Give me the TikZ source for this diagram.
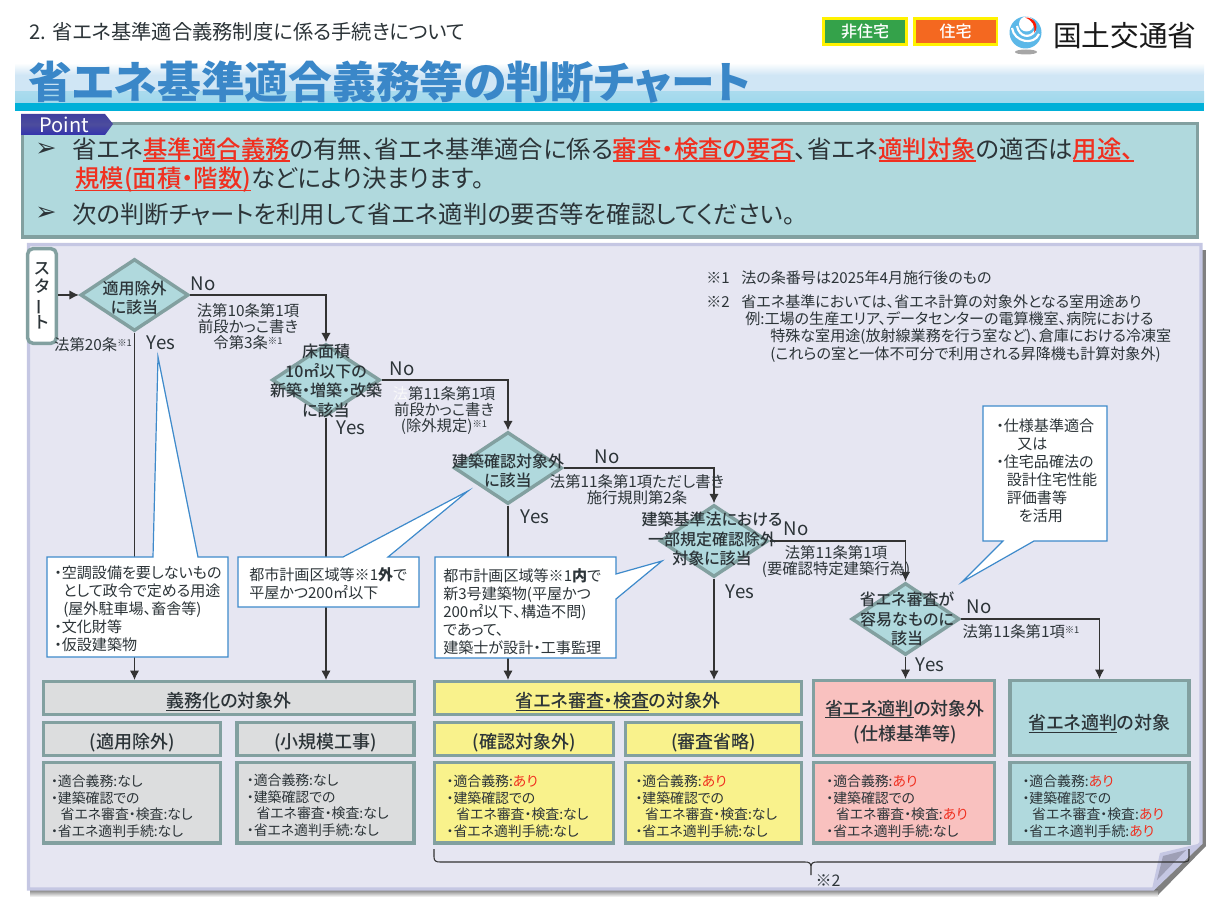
\documentclass[tikz,border=0pt]{standalone}
\usepackage{fontspec}
\setmainfont{Noto Sans CJK JP}[RawFeature=+palt]
\newfontfamily\medfont{Noto Sans CJK JP Medium}[RawFeature=+palt]
\newfontfamily\arrowfont{DejaVu Sans}
\usetikzlibrary{positioning,shapes.geometric,arrows.meta}
\definecolor{panelfill}{HTML}{E6E6F2}
\definecolor{panelline}{HTML}{C5C7E3}
\definecolor{boxline}{HTML}{82A0A0}
\definecolor{tealfill}{HTML}{B0D9DD}
\definecolor{grayfill}{HTML}{DCDDDE}
\definecolor{yelfill}{HTML}{F9F28C}
\definecolor{pinkfill}{HTML}{F9C1BF}
\definecolor{callline}{HTML}{3E8ACB}
\definecolor{titleblue}{HTML}{3A87C8}
\definecolor{redtx}{HTML}{F03020}
\definecolor{darktx}{HTML}{2C3438}
\definecolor{tagyellow}{HTML}{FFF200}
\definecolor{bandpale}{HTML}{D0E6F5}
\definecolor{bandsky}{HTML}{A0D8EC}
\definecolor{bandbar}{HTML}{00B0D8}
\definecolor{logoblue}{HTML}{5CB8E8}
\newcommand{\kome}{\raisebox{3.5pt}{\fontsize{7}{7}\selectfont ※1}}
\newcommand{\redul}[1]{\textcolor{redtx}{\setbox0\hbox{\medfont #1}\rlap{\rule[-2.6pt]{\wd0}{1.2pt}}\box0}}
\newcommand{\blkul}[1]{\setbox0\hbox{#1}\rlap{\rule[-2.2pt]{\wd0}{0.8pt}}\box0}
\newcommand{\ari}{\textcolor{redtx}{あり}}
% first line of the result boxes, sets the text a bit lower
\newcommand{\lowtop}{\rule{0pt}{14.5pt}}
\begin{document}
\begin{tikzpicture}[x=0.75pt,y=-0.75pt]
\tikzstyle{box}=[rectangle, draw=boxline, line width=2.6pt, inner sep=0pt, text=darktx, align=center, text height=15pt, text depth=0.5pt, font=\fontsize{13.5}{17}\medfont]
\tikzstyle{dec}=[diamond, draw=boxline, fill=tealfill, line width=2.6pt, inner sep=0pt, minimum width=81pt, minimum height=54pt]
\tikzstyle{dectext}=[inner sep=0pt, align=center, text=darktx, font=\fontsize{12}{14.8}\medfont]
\tikzstyle{connect}=[-{Latex[length=7pt,width=7pt]}, line width=0.9pt, draw=black!80]
\tikzstyle{callout}=[draw=callline, fill=white, line width=0.9pt, line join=miter]
\tikzstyle{calltext}=[inner sep=0pt, anchor=north west, align=left, text=darktx, font=\fontsize{11.3}{13.5}\selectfont]
\tikzstyle{info}=[rectangle, draw=boxline, line width=2.6pt, inner ysep=0pt, text=darktx, font=\fontsize{10.4}{12.4}\selectfont, align=left, minimum height=60.5pt]
\tikzstyle{law}=[inner sep=0pt, align=center, text=darktx, font=\fontsize{11.5}{12}\selectfont]
\tikzstyle{yesno}=[inner sep=0pt, text=darktx, font=\fontsize{14}{14}\selectfont]
\tikzstyle{note}=[inner sep=0pt, anchor=west, text=darktx, font=\fontsize{11.3}{12}\selectfont]
\tikzstyle{pointline}=[inner sep=0pt, anchor=west, text=darktx, font=\fontsize{18.3}{18.3}\selectfont]
\tikzstyle{tag}=[draw=tagyellow, line width=2pt, minimum width=62pt, minimum height=19.5pt, inner sep=0pt, text=white, font=\fontsize{12}{12}\medfont]
\useasboundingbox (0,0) rectangle (1221,912);
  % header
  \node[inner sep=0pt, anchor=west, text=darktx, font=\fontsize{15.2}{15.2}\selectfont] (subhead) at (29,32) {2. 省エネ基準適合義務制度に係る手続きについて};
  \node[tag, fill={rgb,255:red,52;green,162;blue,74}] (nonres) at (865,31.5) {非住宅};
  \node[tag, fill={rgb,255:red,244;green,104;blue,32}] (res) at (955.5,31.5) {住宅};
  % logo
  \fill[black!35] (1026,52) ellipse (11 and 2.5);
  \fill[logoblue] (1025.5,32.5) circle (16);
  \fill[white] (1026.5,24) circle (7.5);
  \draw[white, line width=1.6pt] (1012,28) .. controls (1014,42) and (1034,46) .. (1039,34);
  \draw[white, line width=1.6pt] (1017,26) .. controls (1019,37) and (1030,39) .. (1035,31);
  \fill[red!80!orange] (1025,17.5) .. controls (1034,17) and (1040,26) .. (1034,33) .. controls (1036,26) and (1032,20) .. (1025,17.5);
  \node[inner sep=0pt, anchor=west, text=black!90, font=\fontsize{21.5}{21.5}\selectfont] (mlit) at (1053,36) {国土交通省};
  % title band
  \shade[top color=white, bottom color=bandpale] (15,63) rectangle (1204,75);
  \fill[bandpale] (15,75) rectangle (1204,92);
  \shade[top color=bandsky!80!bandpale, bottom color=bandsky] (15,92) rectangle (1204,103);
  \fill[bandbar] (15,103) rectangle (1204,111);
  \node[inner sep=0pt, anchor=west, text=titleblue, font=\fontsize{32.8}{32.8}\selectfont\bfseries] (title) at (28,82) {省エネ基準適合義務等の判断チャート};
  % point box
  \node[box, fill=tealfill, minimum width=881pt, minimum height=85pt, anchor=north west] (pointbox) at (21,122) {};
  \shade[top color=blue!50!black!75, bottom color=blue!60!black!80, middle color=blue!45!black!70, draw=none] (21,114) -- (105,114) -- (113,124) -- (105,135) -- (21,135) -- cycle;
  \node[inner sep=0pt, text=white, font=\fontsize{15}{15}\selectfont] (pointtag) at (64,125) {Point};
  \node[inner sep=0pt, anchor=west, text=darktx, font=\arrowfont\fontsize{19}{19}\selectfont] (arrowa) at (35,150) {➢};
  \node[inner sep=0pt, anchor=west, text=darktx, font=\arrowfont\fontsize{19}{19}\selectfont] (arrowb) at (35,214) {➢};
  \node[pointline] (pointa) at (72,150) {省エネ\redul{基準適合義務}の有無、省エネ基準適合に係る\redul{審査・検査の要否}、省エネ\redul{適判対象}の適否は\redul{用途、}};
  \node[pointline] (pointb) at (75,180) {\redul{規模(面積・階数)}などにより決まります。};
  \node[pointline] (pointc) at (72,214) {次の判断チャートを利用して省エネ適判の要否等を確認してください。};
  % panel with its fold
  \fill[black!50] (1201,250) rectangle (1206,846);
  \fill[black!50] (1201,843) -- (1206,846) -- (1158,895) -- (1153,889) -- cycle;
  \shade[top color=black!55, bottom color=white] (30,889) rectangle (1158,897);
  \draw[draw=panelline, fill=panelfill, line width=2.4pt] (28.5,244.5) -- (1201,244.5) -- (1201,843) -- (1153,889) -- (28.5,889) -- cycle;
  \fill[panelline] (1198,844) -- (1160,853) -- (1152,889) -- cycle;
  \fill[black!20!panelline] (1186,850) -- (1163,856) -- (1157,880) -- cycle;
  % boxes
  \node[box, rounded corners=4pt, fill=white, minimum width=21.5pt, minimum height=71pt] (start) at (42,296) {};
  \node[dec] (dia) at (134.5,295) {};
  \node[dec] (dib) at (326,380) {};
  \node[dec] (dic) at (508,468) {};
  \node[dec] (did) at (714,541) {};
  \node[dec] (die) at (905.5,619) {};
  \node[box, fill=grayfill, minimum width=278pt, minimum height=24.5pt] (gimu) at (229,698) {\blkul{義務化}の対象外};
  \node[box, fill=grayfill, minimum width=132.5pt, minimum height=24.5pt] (tekiyo) at (132,739) {(適用除外)};
  \node[box, fill=grayfill, minimum width=133pt, minimum height=24.5pt] (kibo) at (325.5,739) {(小規模工事)};
  \node[info, fill=grayfill, text width=121.5pt, inner xsep=5.5pt, below=2.6pt of tekiyo] (tekiyoinfo) {\lowtop・適合義務:なし\\・建築確認での\\\hspace*{0.7em}省エネ審査・検査:なし\\・省エネ適判手続:なし};
  \node[info, fill=grayfill, text width=118pt, inner xsep=7.5pt, below=2.6pt of kibo] (kiboinfo) {\rule{0pt}{12.5pt}・適合義務:なし\\・建築確認での\\\hspace*{0.7em}省エネ審査・検査:なし\\・省エネ適判手続:なし};
  \node[box, fill=yelfill, minimum width=275pt, minimum height=24.5pt] (shinsa) at (618,698) {\blkul{省エネ審査・検査}の対象外};
  \node[box, fill=yelfill, minimum width=134pt, minimum height=24.5pt] (kakunin) at (524,739) {(確認対象外)};
  \node[box, fill=yelfill, minimum width=132pt, minimum height=24.5pt] (shoryaku) at (713.5,739) {(審査省略)};
  \node[info, fill=yelfill, text width=116pt, inner xsep=9pt, below=2.6pt of kakunin] (kakuninfo) {\lowtop・適合義務:\ari\\・建築確認での\\\hspace*{0.7em}省エネ審査・検査:なし\\・省エネ適判手続:なし};
  \node[info, fill=yelfill, text width=117pt, inner xsep=7.5pt, below=2.6pt of shoryaku] (shoryinfo) {\lowtop・適合義務:\ari\\・建築確認での\\\hspace*{0.7em}省エネ審査・検査:なし\\・省エネ適判手続:なし};
  \node[box, fill=pinkfill, minimum width=135.5pt, minimum height=56pt] (taisogai) at (904,718) {};
  \node[box, fill=tealfill, text height=18pt, text depth=0.3pt, minimum width=134.5pt, minimum height=56pt] (taisho) at (1099.5,718) {\blkul{省エネ適判}の対象};
  \node[info, fill=pinkfill, text width=116.5pt, inner xsep=9.5pt, below=2.6pt of taisogai] (gaiinfo) {\lowtop・適合義務:\ari\\・建築確認での\\\hspace*{0.7em}省エネ審査・検査:\ari\\・省エネ適判手続:なし};
  \node[info, fill=tealfill, text width=115.5pt, inner xsep=9.5pt, below=2.6pt of taisho] (shoinfo) {\lowtop・適合義務:\ari\\・建築確認での\\\hspace*{0.7em}省エネ審査・検査:\ari\\・省エネ適判手続:\ari};
  \node[inner sep=0pt, align=center, text=darktx, font=\fontsize{13.5}{18.7}\medfont] (gaitx) at (905,722) {\blkul{省エネ適判}の対象外\\(仕様基準等)};
  % connectors
  \path (start.east |- dia) edge [connect] (dia.west)
        (dia.south) edge [connect] (dia.south |- gimu.north)
        (dib.south) edge [connect] (dib.south |- gimu.north)
        (dic.south) edge [connect] (dic.south |- shinsa.north)
        (did.south) edge [connect] (did.south |- shinsa.north)
        (die.south) edge [connect] (die.south |- taisogai.north);
  \draw[connect] (dia.east) -| (dib.north);
  \draw[connect] (dib.east) -| (dic.north);
  \draw[connect] (dic.east) -| (did.north);
  \draw[connect] (did.east) -| (die.north);
  \draw[connect] (die.east) -| (taisho.north);
  % callouts
  \draw[callout] (47,557) -- (153,557) -- (158,357) -- (198,557) -- (228,557) -- (228,657) -- (47,657) -- cycle;
  \draw[callout] (238,557) -- (343,557) -- (468,491) -- (388,557) -- (419,557) -- (419,607) -- (238,607) -- cycle;
  \draw[callout] (435,557) -- (616,557) -- (616,574) -- (662,561) -- (616,599) -- (616,658) -- (435,658) -- cycle;
  \draw[callout] (983,406) -- (1107,406) -- (1107,541) -- (1034,541) -- (962,582) -- (1003,541) -- (983,541) -- cycle;
  \node[calltext] (callouta) at (54,566) {・空調設備を要しないもの\\\hspace*{0.6em}として政令で定める用途\\\hspace*{0.6em}(屋外駐車場、畜舎等)\\・文化財等\\・仮設建築物};
  \node[calltext] (calloutb) at (249,567) {都市計画区域等※1\textbf{外}で\\平屋かつ200㎡以下};
  \node[calltext] (calloutc) at (443,568) {都市計画区域等※1\textbf{内}で\\新3号建築物(平屋かつ\\200㎡以下、構造不問)\\であって、\\建築士が設計・工事監理};
  \node[calltext] (calloutd) at (996,419) {・仕様基準適合\\\hspace*{1.4em}又は\\・住宅品確法の\\\hspace*{0.7em}設計住宅性能\\\hspace*{0.7em}評価書等\\\hspace*{1.5em}を活用};
  % brace
  \draw[line width=0.8pt, draw=black!80] (434,849) -- (434,857) .. controls (434,861) and (436,862) .. (440,862) -- (805,862) .. controls (809,862) and (811,863) .. (811,867) -- (811,875) (811,867) .. controls (811,863) and (813,862) .. (817,862) -- (1185,862) .. controls (1188,862) and (1189,861) .. (1189,857) -- (1189,849);
  \node[inner sep=0pt, text=darktx, font=\fontsize{12}{12}\selectfont] (komeb) at (828,881) {※2};
  % start and diamond texts
  \node[inner sep=0pt, align=center, text=darktx, font=\fontsize{12.5}{13.5}\medfont] (starttx) at (42,296) {ス\\タ\\\rotatebox[origin=c]{90}{ー}\\ト};
  \node[dectext] (diatx) at (134.5,298) {適用除外\\に該当};
  \node[dectext] (dibtx) at (326,381) {床面積\\10㎡以下の\\新築・増築・改築\\に該当};
  \node[dectext] (dictx) at (508,471) {建築確認対象外\\に該当};
  \node[dectext] (didtx) at (712,539) {建築基準法における\\一部規定確認除外\\対象に該当};
  \node[dectext] (dietx) at (907,619) {省エネ審査が\\容易なものに\\該当};
  % labels on the flow
  \node[yesno] (noa) at (203,284) {No};
  \node[yesno] (yesa) at (161,343) {Yes};
  \node[yesno] (nob) at (402,369) {No};
  \node[yesno] (yesb) at (351,428) {Yes};
  \node[yesno] (noc) at (607,457) {No};
  \node[yesno] (yesc) at (535,517) {Yes};
  \node[yesno] (nod) at (796,529) {No};
  \node[yesno] (yesd) at (740,592) {Yes};
  \node[yesno] (noe) at (979,607) {No};
  \node[yesno] (yese) at (930,665) {Yes};
  \node[law] (lawa) at (248,327) {法第10条第1項\\前段かっこ書き\\令第3条\kome};
  \node[law] (lawb) at (93,345) {法第20条\kome};
  \node[law] (lawc) at (444,411) {\textcolor{panelfill!85!black!10}{法}第11条第1項\\前段かっこ書き\\(除外規定)\kome};
  \node[law] (lawd) at (637,490) {法第11条第1項ただし書き\\施行規則第2条};
  \node[law] (lawe) at (836,562) {法第11条第1項\\(要確認特定建築行為)};
  \node[law] (lawf) at (1021,632) {法第11条第1項\kome};
  % notes
  \node[note] (notea) at (706,278) {※1};
  \node[note] (noteb) at (741,278) {法の条番号は2025年4月施行後のもの};
  \node[note] (notec) at (706,302) {※2};
  \node[note] (noted) at (741,302) {省エネ基準においては、省エネ計算の対象外となる室用途あり};
  \node[note] (notee) at (745,319) {例:工場の生産エリア、データセンターの電算機室、病院における};
  \node[note] (notef) at (770,337) {特殊な室用途(放射線業務を行う室など)、倉庫における冷凍室};
  \node[note] (noteg) at (770,355) {(これらの室と一体不可分で利用される昇降機も計算対象外)};
\end{tikzpicture}
\end{document}
